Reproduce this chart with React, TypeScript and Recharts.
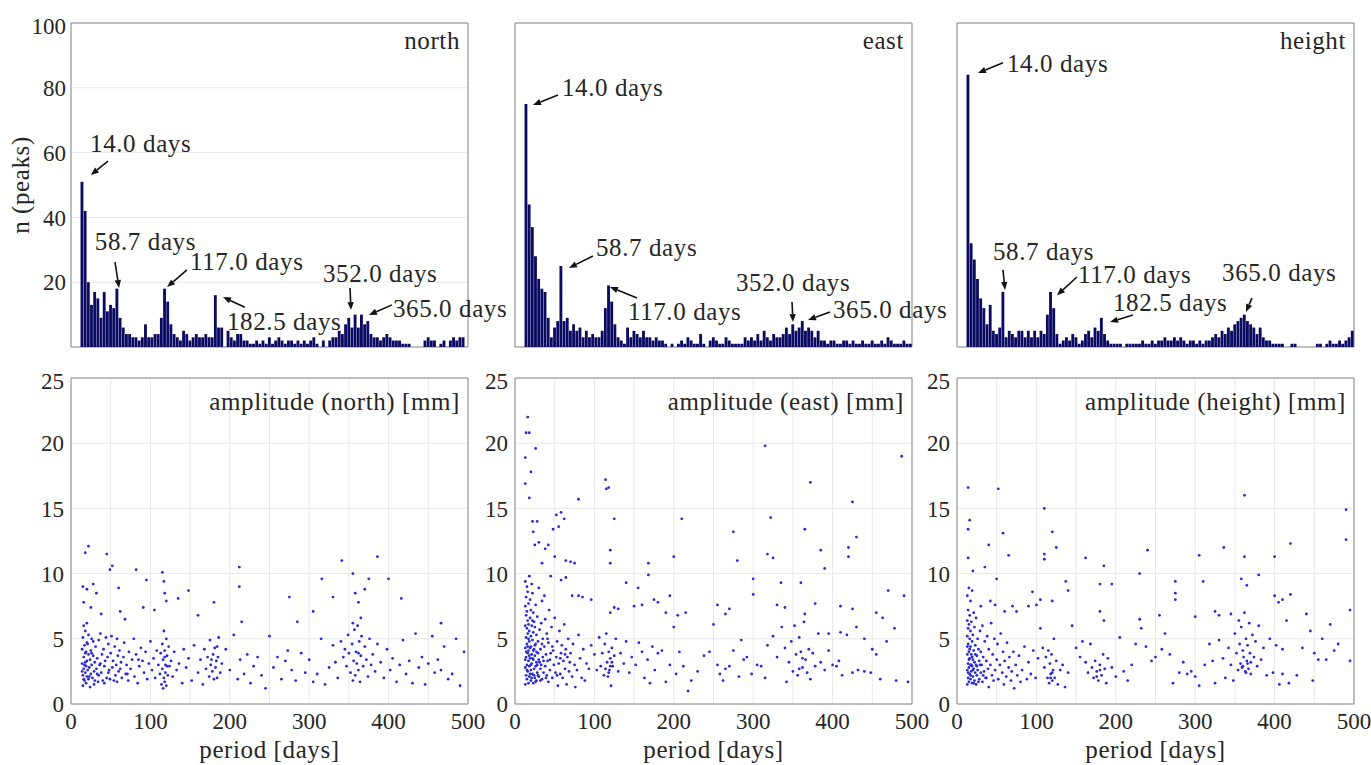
import React from 'react';
import {
  BarChart, Bar, ScatterChart, Scatter, XAxis, YAxis, CartesianGrid,
  ReferenceArea, ReferenceLine, ReferenceDot,
} from 'recharts';

const FONT = 'Liberation Serif, DejaVu Serif, serif';
const INK = '#262626';
const BAR = '#0b0b63';
const DOT = '#2a2ad2';

// histogram: number of peaks per 4-day period bin (first bin centred on 14 days)
const northCounts = [
  51, 42, 20, 13, 17, 15, 9, 17, 11, 13,
  12, 18, 9, 6, 4, 4, 3, 3, 2, 3,
  7, 3, 3, 4, 4, 9, 18, 14, 7, 4,
  3, 2, 5, 4, 2, 3, 4, 3, 3, 4,
  3, 3, 16, 6, 6, 0, 5, 3, 2, 4,
  4, 2, 2, 1, 1, 2, 1, 2, 1, 3,
  1, 2, 3, 2, 1, 2, 2, 1, 2, 1,
  2, 1, 2, 3, 1, 0, 2, 0, 2, 3,
  3, 5, 4, 7, 9, 6, 10, 6, 10, 7,
  8, 4, 3, 3, 2, 3, 4, 3, 2, 2,
  2, 1, 1, 1, 0, 0, 0, 0, 2, 3,
  2, 2, 0, 1, 2, 0, 2, 3, 2, 3,
  3, 0,
];
const eastCounts = [
  75, 44, 37, 28, 21, 18, 17, 9, 3, 6,
  8, 25, 8, 9, 5, 7, 5, 6, 3, 5,
  3, 4, 3, 3, 5, 12, 19, 14, 7, 3,
  2, 1, 6, 3, 5, 4, 3, 5, 3, 3,
  2, 3, 2, 2, 1, 0, 1, 0, 1, 2,
  1, 3, 2, 1, 1, 4, 1, 0, 2, 3,
  2, 1, 1, 3, 2, 1, 1, 1, 1, 3,
  2, 3, 2, 4, 2, 5, 3, 2, 4, 3,
  3, 4, 6, 4, 7, 5, 6, 8, 5, 6,
  5, 3, 5, 2, 2, 1, 2, 2, 1, 1,
  2, 2, 1, 2, 1, 1, 2, 1, 1, 2,
  1, 1, 2, 1, 3, 2, 1, 1, 1, 2,
  1, 1,
];
const heightCounts = [
  84, 32, 27, 21, 15, 12, 7, 13, 5, 4,
  6, 17, 3, 5, 4, 3, 5, 5, 3, 5,
  3, 5, 3, 5, 4, 10, 17, 12, 4, 1,
  2, 3, 2, 4, 3, 1, 2, 4, 5, 3,
  6, 5, 9, 4, 2, 1, 1, 1, 1, 0,
  1, 1, 1, 1, 1, 2, 1, 1, 2, 1,
  2, 2, 3, 2, 2, 3, 2, 3, 2, 1,
  2, 2, 1, 2, 1, 2, 2, 3, 4, 3,
  5, 4, 6, 5, 7, 8, 9, 10, 8, 7,
  6, 4, 6, 3, 2, 2, 1, 1, 1, 1,
  0, 0, 1, 1, 0, 0, 0, 0, 0, 0,
  1, 1, 0, 1, 2, 1, 1, 2, 1, 2,
  3, 5,
];

// scatter: [period (days), amplitude (mm)]
const northPoints: [number, number][] = [
  [14,3.1],[14,4.2],[15,2.2],[15,5.1],[15,1.4],[16,3.6],[16,2.7],[16,6.0],[17,4.5],[17,1.8],[17,3.0],[18,2.4],[18,3.9],[18,5.6],[19,2.9],[19,1.6],[19,4.0],[20,3.3],[20,2.1],[20,6.2],
  [21,2.6],[21,4.6],[22,3.8],[22,1.9],[22,5.3],[23,2.8],[24,3.4],[24,1.3],[25,4.1],[25,2.3],[26,5.0],[26,3.0],[27,2.0],[28,3.7],[28,4.8],[29,2.5],[30,1.8],[30,3.2],[31,4.4],[32,2.7],
  [33,3.5],[34,1.7],[35,4.9],[35,2.2],[36,3.0],[37,5.4],[38,2.4],[39,3.8],[40,1.8],[41,4.2],[42,2.9],[43,3.3],[44,5.1],[45,2.0],[46,3.6],[47,4.6],[48,2.6],[49,1.9],[50,3.9],[51,5.2],
  [52,2.8],[53,3.3],[55,4.4],[56,2.2],[57,3.0],[58,5.0],[58,1.7],[59,3.7],[60,2.5],[61,4.1],[63,3.2],[64,2.0],[66,3.6],[67,4.7],[69,2.3],[70,3.0],[72,1.8],[73,4.0],[75,2.7],[77,3.4],
  [79,5.0],[80,2.1],[82,3.8],[84,1.6],[86,2.9],[88,4.3],[90,3.3],[92,2.4],[94,4.0],[96,1.9],[98,3.1],[100,4.8],[102,2.6],[104,3.5],[106,2.0],[108,4.1],[110,3.0],[112,2.3],[113,3.9],[114,1.5],
  [115,4.6],[115,2.7],[116,1.2],[116,3.4],[117,5.6],[117,2.0],[118,4.1],[118,1.7],[119,3.0],[119,2.4],[120,5.0],[120,1.4],[121,3.7],[122,2.2],[123,4.4],[124,2.9],[126,3.3],[128,2.1],[130,4.0],[133,2.6],
  [136,3.1],[140,1.6],[142,4.2],[145,2.8],[148,3.5],[152,1.8],[155,4.5],[160,2.4],[163,3.4],[166,1.5],[168,4.2],[170,2.7],[172,3.6],[174,2.1],[175,4.9],[176,3.0],[178,2.5],[179,3.8],[180,1.9],[181,4.3],
  [182,2.8],[183,3.3],[184,2.0],[185,3.6],[186,5.1],[188,2.4],[190,3.1],[195,4.2],[200,2.6],[205,5.3],[210,1.9],[213,3.4],[218,2.3],[222,3.8],[226,1.6],[230,2.9],[235,3.6],[240,2.2],[245,1.2],[250,5.2],
  [255,2.8],[260,3.6],[265,1.9],[270,3.3],[273,4.1],[278,2.6],[283,1.8],[290,3.9],[295,2.4],[300,3.4],[305,1.7],[310,2.3],[315,5.0],[320,1.5],[325,2.8],[330,4.5],[333,3.2],[336,2.0],[340,4.8],[343,3.6],
  [345,4.2],[347,2.9],[349,5.3],[350,3.9],[352,2.4],[354,4.6],[355,1.8],[356,3.3],[357,5.7],[358,2.2],[359,4.0],[360,3.1],[361,6.0],[362,2.6],[363,4.8],[364,1.7],[365,3.7],[366,5.2],[368,2.9],[370,4.4],
  [372,3.4],[374,2.1],[376,5.0],[378,3.0],[380,3.8],[383,2.5],[386,4.6],[390,3.2],[394,2.0],[398,4.2],[402,2.6],[405,3.5],[410,1.7],[414,3.0],[418,4.9],[422,2.3],[426,3.3],[430,1.6],[434,5.4],[438,2.8],
  [442,3.6],[446,1.5],[450,3.1],[455,5.2],[458,2.4],[462,3.4],[466,2.6],[470,4.4],[475,1.9],[480,2.3],[485,5.0],[490,1.4],[495,4.0],
  [22,12.1],[18,11.6],[45,11.5],[49,10.3],[52,10.6],[15,9.0],[20,8.8],[28,9.2],[32,8.5],[16,7.8],[25,7.4],[38,6.9],[60,8.9],[62,7.1],[68,6.5],[82,10.3],[95,9.5],[91,7.4],[105,7.2],[115,10.1],
  [117,9.4],[118,8.5],[120,7.9],[135,8.1],[148,8.7],[160,6.8],[180,7.8],[212,10.5],[212,9.0],[215,6.3],[275,8.2],[285,6.3],[305,7.1],[316,9.6],[330,8.2],[341,11.0],[355,10.0],[358,8.5],[362,7.8],[370,8.8],
  [375,9.6],[386,11.3],[400,9.6],[416,8.1],[466,6.2],[355,6.2],[365,6.6],
  [14,2.5],[16,1.9],[18,3.2],[20,4.7],[23,2.1],[26,3.9],[29,1.5],[33,2.3],[37,3.1],[42,1.6],[47,2.4],[54,1.8],[62,2.7],[71,2.3],[85,3.4],[118,3.6],[121,2.9],[177,3.4],[184,4.4],[362,3.9],
];
const eastPoints: [number, number][] = [
  [16,22.0],[14,20.8],[18,20.8],[26,19.6],[13,18.9],[13,16.9],[20,17.8],[18,15.8],[114,17.2],[115,16.5],[118,16.6],[80,15.7],[125,14.2],[210,14.2],[315,19.8],[322,14.3],[487,19.0],[372,17.0],[425,15.5],[430,12.8],
  [275,13.2],[365,13.4],[280,11.0],[200,11.3],[168,10.8],[120,11.8],[120,10.8],[140,9.3],[155,8.9],[168,9.9],[195,8.3],[300,9.6],[300,8.4],[318,11.5],[325,11.2],[335,9.3],[360,9.3],[385,11.8],[390,10.4],[420,12.0],
  [420,11.3],[470,8.7],[490,8.3],[52,14.5],[58,14.7],[62,14.2],[55,13.6],[48,13.4],[42,12.2],[38,11.9],[30,12.4],[25,12.2],[22,14.0],[28,14.0],[23,13.2],[34,10.8],[64,11.0],[70,10.9],[75,10.8],[50,11.3],
  [58,9.5],[45,9.8],[72,8.3],[80,8.3],[85,8.2],[96,8.0],[64,9.7],[130,7.3],[125,7.4],[120,7.0],[150,7.5],[160,7.6],[175,8.0],[180,7.8],[190,7.0],[205,6.8],[215,7.0],[255,7.6],[265,6.9],[270,7.3],
  [285,4.9],[330,7.6],[340,7.4],[365,6.9],[378,7.7],[410,7.5],[425,7.3],[455,7.0],[463,6.6],[478,5.8],[430,5.9],[440,5.0],[450,4.2],[455,3.8],[468,4.8],[480,1.8],[495,1.7],[395,5.4],[410,5.5],
  [13,1.5],[13,2.8],[13,4.3],[13,6.0],[13,7.5],[13,9.4],[14,2.2],[14,3.6],[14,5.1],[14,6.8],[14,8.2],[15,1.9],[15,3.0],[15,4.6],[15,5.8],[15,7.1],[15,9.0],[16,2.5],[16,3.9],[16,5.4],
  [16,6.4],[16,8.6],[17,1.6],[17,3.3],[17,4.1],[17,6.1],[17,7.7],[18,2.1],[18,2.9],[18,4.8],[18,5.6],[18,9.8],[19,3.5],[19,6.6],[19,8.0],[20,1.8],[20,2.6],[20,4.4],[20,5.2],[20,7.2],
  [21,3.1],[21,3.8],[21,6.0],[21,9.2],[22,2.3],[22,4.9],[22,8.5],[23,1.6],[23,3.4],[23,5.5],[23,7.0],[24,2.7],[24,4.2],[24,6.3],[25,2.0],[25,3.7],[25,5.9],[26,2.9],[26,4.6],[26,7.6],
  [27,1.8],[27,3.2],[27,5.3],[28,2.4],[28,6.7],[29,3.9],[29,4.8],[30,2.1],[30,3.4],[30,8.9],[31,5.7],[32,2.7],[32,4.2],[33,3.0],[33,6.2],[34,1.9],[34,7.9],[35,3.6],[35,5.0],[36,2.4],
  [37,4.4],[37,8.3],[38,2.9],[38,6.5],[39,3.8],[40,2.2],[40,5.4],[41,3.3],[42,1.7],[42,4.7],[43,7.2],[44,2.6],[45,3.9],[46,5.9],[47,2.0],[48,4.1],[49,3.0],[50,6.6],[51,2.4],[52,3.6],
  [53,4.8],[54,1.4],[55,3.1],[56,5.6],[57,2.3],[58,3.9],[59,4.5],[60,2.0],[61,3.3],[62,6.1],[63,2.7],[64,4.2],[65,1.5],[66,3.6],[67,5.0],[68,2.5],[70,3.9],[72,2.1],[73,4.6],[75,3.0],
  [76,1.3],[78,2.6],[80,5.3],[82,3.5],[84,2.0],[86,4.2],[88,1.8],[90,3.1],[93,2.7],[96,4.5],[100,3.8],[103,2.6],[106,5.1],[108,2.9],[110,3.9],[112,2.2],[113,4.6],[114,2.7],[115,5.4],[116,3.2],
  [117,2.1],[118,4.0],[119,2.6],[120,3.5],[121,1.4],[122,4.3],[123,2.9],[125,3.7],[127,5.0],[130,2.5],[133,3.9],[137,3.1],[140,4.8],[144,2.4],[147,3.6],[152,3.0],[156,4.7],[160,4.0],[163,2.0],[167,3.4],
  [170,1.6],[173,4.4],[176,2.6],[180,3.9],[185,4.1],[190,1.7],[195,3.0],[200,5.9],[203,2.3],[207,4.0],[212,2.9],[218,1.0],[222,1.8],[230,2.5],[238,3.7],[245,4.0],[250,6.1],[255,3.0],[258,2.3],[262,1.8],
  [265,2.7],[270,2.9],[275,4.1],[282,2.1],[288,3.4],[292,3.6],[298,2.3],[305,3.0],[310,2.9],[315,2.0],[318,4.5],[325,5.2],[330,3.6],[336,5.9],[340,4.3],[342,1.7],[345,3.2],[348,4.8],[350,2.5],[352,6.0],
  [354,3.8],[356,2.2],[358,5.1],[360,4.0],[362,2.8],[364,6.3],[366,3.4],[368,2.4],[370,4.2],[372,1.9],[375,3.9],[378,2.9],[382,5.4],[385,3.2],[390,2.6],[395,4.1],[400,3.0],[405,2.9],[408,3.3],[412,2.2],
  [418,5.3],[425,2.4],[432,2.6],[440,2.5],[448,2.4],[460,1.9],
  [13,3.4],[14,4.0],[15,2.6],[16,4.4],[17,5.0],[18,3.7],[19,2.3],[19,4.3],[20,3.0],[21,2.0],[22,3.5],[22,6.4],[23,4.1],[24,2.2],[25,4.5],[26,1.7],[27,4.0],[28,3.0],[29,2.2],[31,3.2],
  [32,1.8],[34,4.6],[36,3.3],[39,2.0],[41,5.0],[44,3.4],[47,4.4],[53,2.2],[57,3.5],[63,3.8],[69,3.2],[118,2.4],[120,2.9],[122,3.2],[358,2.7],[362,3.5],
];
const heightPoints: [number, number][] = [
  [14,16.6],[52,16.5],[362,16.0],[110,15.0],[490,14.9],[16,14.1],[14,13.4],[58,13.1],[120,13.2],[125,12.0],[40,12.2],[110,11.5],[110,11.1],[65,11.4],[14,11.2],[162,11.2],[240,11.8],[305,11.4],[336,12.0],[362,11.3],
  [400,11.3],[420,12.3],[490,12.6],[185,10.6],[230,10.0],[35,10.5],[20,10.2],[50,9.6],[137,9.4],[140,8.7],[180,9.2],[195,9.2],[275,9.4],[310,9.4],[358,9.6],[365,9.1],[380,9.9],[400,8.3],[405,7.8],[410,8.0],
  [420,8.4],[440,6.9],[470,6.1],[495,7.2],[275,8.5],[275,8.0],[300,6.7],[325,7.1],[330,6.8],[345,6.9],[95,8.6],[105,8.0],[100,7.6],[120,7.9],[90,7.5],[70,7.5],[75,7.1],[60,7.1],[30,7.5],[42,7.9],
  [48,7.6],[180,7.1],[185,6.4],[230,6.5],[255,6.8],[445,5.6],[460,5.0],[480,4.6],[495,3.3],[465,3.4],[475,4.1],[435,4.3],[450,3.9],[410,4.2],[415,6.4],
  [13,1.5],[13,2.6],[13,3.8],[13,5.2],[13,6.4],[13,8.3],[14,2.0],[14,3.1],[14,4.6],[14,5.8],[14,7.2],[15,1.7],[15,2.8],[15,4.0],[15,6.1],[15,8.9],[16,2.3],[16,3.5],[16,5.0],[16,6.8],
  [17,1.9],[17,3.0],[17,4.4],[17,5.6],[17,7.9],[18,2.5],[18,3.8],[18,6.3],[19,1.6],[19,2.9],[19,4.8],[19,8.7],[20,2.1],[20,3.4],[20,5.3],[21,2.7],[21,4.1],[21,7.0],[22,1.8],[22,3.2],
  [22,5.9],[23,2.4],[23,4.5],[24,1.5],[24,3.0],[24,6.6],[25,2.2],[25,3.7],[26,5.0],[26,2.6],[27,4.2],[28,1.9],[28,3.3],[29,5.6],[30,2.4],[30,4.0],[31,3.0],[32,1.7],[32,6.0],[33,3.6],
  [34,2.5],[35,4.8],[36,2.0],[37,3.3],[38,5.2],[39,2.7],[40,1.3],[40,4.2],[42,3.0],[43,6.2],[44,2.2],[45,3.8],[47,5.0],[48,2.6],[50,3.4],[51,4.6],[52,1.9],[54,3.0],[55,5.4],[57,2.4],
  [58,4.0],[59,1.5],[60,3.3],[62,2.1],[63,4.7],[65,2.8],[66,3.6],[68,1.8],[69,2.5],[71,4.0],[72,1.2],[74,3.0],[76,2.2],[78,3.7],[80,1.7],[82,2.6],[85,4.4],[88,1.9],[90,3.2],[93,2.3],
  [96,4.1],[99,2.0],[102,3.5],[105,5.8],[108,4.3],[110,2.8],[112,3.6],[114,2.0],[115,4.1],[116,1.6],[117,3.1],[118,2.3],[119,3.8],[120,1.8],[121,2.6],[122,5.0],[123,2.0],[125,3.3],[127,1.5],[130,2.6],
  [133,3.0],[136,1.3],[140,2.4],[145,6.0],[150,4.3],[155,3.6],[158,4.8],[162,3.2],[165,2.4],[168,4.6],[170,2.8],[172,2.0],[174,3.3],[176,2.5],[178,1.8],[180,3.0],[182,2.2],[184,3.8],[186,2.7],[188,1.6],
  [190,3.5],[195,2.8],[200,2.1],[205,5.1],[210,2.5],[215,1.8],[220,3.0],[225,4.6],[232,5.8],[238,4.4],[245,3.3],[250,3.6],[258,4.2],[262,5.4],[268,3.8],[272,1.6],[280,2.4],[285,3.2],[290,2.3],[295,2.5],
  [300,2.1],[305,1.4],[312,3.0],[318,4.6],[322,3.3],[325,1.6],[330,4.9],[335,3.5],[338,2.0],[342,4.3],[345,3.0],[348,1.8],[350,5.4],[352,3.9],[354,2.6],[355,6.4],[356,4.6],[357,3.1],[358,5.9],[359,2.8],
  [360,4.1],[361,3.6],[362,7.0],[363,2.5],[364,5.0],[365,3.3],[366,4.5],[367,2.7],[368,6.2],[369,3.9],[370,2.3],[372,5.3],[374,3.6],[376,4.8],[378,2.9],[380,6.0],[383,3.4],[386,4.3],[390,2.2],[394,5.0],
  [398,2.4],[402,4.5],[406,1.5],[410,2.3],[418,1.6],[428,2.2],[448,1.8],[455,3.4],
  [13,4.4],[14,2.4],[15,3.4],[16,4.2],[17,2.2],[18,3.0],[19,3.6],[20,2.6],[21,1.6],[23,3.8],[25,2.9],[27,1.7],[29,3.0],[33,2.2],[37,2.0],[46,1.8],[118,2.0],[120,2.4],[176,2.1],[180,2.6],
  [360,2.9],[364,2.4],[366,3.1],[370,3.2],
];

type Note = { label: string; tx: number; ty: number; x1: number; y1: number; x2: number; y2: number };

// peak labels: text anchor (tx, ty) and arrow from (x1, y1) to (x2, y2), in data units
const northNotes: Note[] = [
  { label: '14.0 days', tx: 24, ty: 60.2, x1: 46.6, y1: 57.4, x2: 25, y2: 53.1 },
  { label: '58.7 days', tx: 30, ty: 29.9, x1: 55.4, y1: 26.2, x2: 60.5, y2: 18.2 },
  { label: '117.0 days', tx: 150, ty: 23.8, x1: 146, y1: 23.8, x2: 121, y2: 18.5 },
  { label: '182.5 days', tx: 196.5, ty: 5.2, x1: 219, y1: 12.3, x2: 191.4, y2: 15.4 },
  { label: '352.0 days', tx: 317.4, ty: 20.1, x1: 351.4, y1: 18.2, x2: 352.6, y2: 11.4 },
  { label: '365.0 days', tx: 405.5, ty: 9.3, x1: 404.3, y1: 13.0, x2: 375.3, y2: 9.9 },
];
const eastNotes: Note[] = [
  { label: '14.0 days', tx: 59.2, ty: 77.5, x1: 54.2, y1: 77.8, x2: 22.7, y2: 74.7 },
  { label: '58.7 days', tx: 102, ty: 28.1, x1: 98.2, y1: 28.1, x2: 68, y2: 24.4 },
  { label: '117.0 days', tx: 142.3, ty: 8.3, x1: 153.7, y1: 15.1, x2: 119.6, y2: 18.5 },
  { label: '352.0 days', tx: 278.3, ty: 17.3, x1: 348.9, y1: 13.9, x2: 350.1, y2: 7.7 },
  { label: '365.0 days', tx: 400.5, ty: 9.0, x1: 396.7, y1: 10.8, x2: 369, y2: 8.3 },
];
const heightNotes: Note[] = [
  { label: '14.0 days', tx: 63, ty: 84.9, x1: 57.9, y1: 87.7, x2: 26.4, y2: 84.6 },
  { label: '58.7 days', tx: 45.3, ty: 26.9, x1: 57.9, y1: 23.8, x2: 60.5, y2: 17.6 },
  { label: '117.0 days', tx: 152.4, ty: 19.8, x1: 151.1, y1: 21.6, x2: 125.9, y2: 16.0 },
  { label: '182.5 days', tx: 196.5, ty: 11.1, x1: 221.7, y1: 9.9, x2: 192.7, y2: 7.7 },
  { label: '365.0 days', tx: 333.8, ty: 20.4, x1: 371.5, y1: 15.1, x2: 363.9, y2: 10.8 },
];

const histTicksX = [0, 100, 200, 300, 400, 500];
const histTicksY = [0, 20, 40, 60, 80, 100];
const ampTicksX = [0, 50, 100, 150, 200, 250, 300, 350, 400, 450, 500];
const ampTicksY = [0, 5, 10, 15, 20, 25];

const PLOT_LEFT = [71, 515, 957];
const PLOT_W = 397;
const TOP_Y = 23;
const TOP_H = 324;
const BOT_Y = 378;
const BOT_H = 326;
const AXIS_W = 60;

const tickStyle = { fill: INK, fontSize: 23, fontFamily: FONT };
const textProps = { fill: INK, fontSize: 25, fontFamily: FONT, letterSpacing: 0.6 };

const Arrow = (props: any) => {
  const { x1, y1, x2, y2 } = props;
  const ang = Math.atan2(y2 - y1, x2 - x1);
  const len = 8;
  const half = 3.2;
  const bx = x2 - len * Math.cos(ang);
  const by = y2 - len * Math.sin(ang);
  const px = -Math.sin(ang) * half;
  const py = Math.cos(ang) * half;
  return (
    <g>
      <line x1={x1} y1={y1} x2={bx} y2={by} stroke="#111" strokeWidth={1.6} />
      <polygon points={`${x2},${y2} ${bx + px},${by + py} ${bx - px},${by - py}`} fill="#111" />
    </g>
  );
};

const noteText = (label: string) => (p: any) => (
  <text x={p.cx} y={p.cy} {...textProps}>{label}</text>
);

const cornerTitle = (label: string, dy: number) => (p: any) => (
  <text x={p.cx - 8} y={p.cy + dy} textAnchor="end" {...textProps}>{label}</text>
);

const HistPanel = ({ counts, title, notes, col }: { counts: number[]; title: string; notes: Note[]; col: number }) => {
  const data = counts.map((n, i) => ({ p: 14 + 4 * i, n }));
  const first = col === 0;
  const axisW = first ? PLOT_LEFT[0] : AXIS_W;
  return (
    <div style={{ position: 'absolute', left: PLOT_LEFT[col] - axisW, top: TOP_Y - 10 }}>
      <BarChart
        width={axisW + PLOT_W + 90}
        height={10 + TOP_H + 2}
        data={data}
        margin={{ top: 10, right: 90, bottom: 2, left: 0 }}
        barCategoryGap={0}
        barGap={0}
      >
        <CartesianGrid stroke="#e8e8e8" />
        <XAxis type="number" dataKey="p" domain={[0, 500]} ticks={histTicksX} tick={false}
          axisLine={false} tickLine={false} height={0} allowDataOverflow />
        <YAxis type="number" domain={[0, 100]} ticks={histTicksY} width={axisW}
          axisLine={false} tickLine={false} tickSize={0} tickMargin={5}
          tick={first ? tickStyle : false}
          label={first ? ((lp: any) => {
            const vb = lp.viewBox;
            if (!vb) return null;
            const x = vb.x + 29;
            const y = vb.y + vb.height / 2;
            return (
              <g transform={`translate(${x}, ${y}) rotate(-90)`}>
                <text x={0} y={0} textAnchor="middle" {...textProps}>n (peaks)</text>
              </g>
            );
          }) : undefined}
        />
        <Bar dataKey="n" fill={BAR} barSize={3.4} isAnimationActive={false} />
        <ReferenceArea x1={0} x2={500} y1={0} y2={100} fill="none" stroke="#8a8a8a" strokeWidth={1} />
        <ReferenceDot x={500} y={100} r={0} shape={cornerTitle(title, 26)} />
        {notes.map((nt) => (
          <ReferenceLine key={`a-${nt.label}`} segment={[{ x: nt.x1, y: nt.y1 }, { x: nt.x2, y: nt.y2 }]} shape={Arrow} />
        ))}
        {notes.map((nt) => (
          <ReferenceDot key={`t-${nt.label}`} x={nt.tx} y={nt.ty} r={0} shape={noteText(nt.label)} />
        ))}
      </BarChart>
    </div>
  );
};

const AmpPanel = ({ points, title, col }: { points: [number, number][]; title: string; col: number }) => {
  const data = points.map(([p, a]) => ({ p, a }));
  return (
    <div style={{ position: 'absolute', left: PLOT_LEFT[col] - AXIS_W, top: BOT_Y - 10 }}>
      <ScatterChart
        width={AXIS_W + PLOT_W + 30}
        height={10 + BOT_H + 61}
        margin={{ top: 10, right: 30, bottom: 0, left: 0 }}
      >
        <CartesianGrid stroke="#e8e8e8" />
        <XAxis type="number" dataKey="p" domain={[0, 500]} ticks={ampTicksX} interval={0}
          tickFormatter={(v: number) => (v % 100 === 0 ? String(v) : '')}
          axisLine={false} tickLine={false} tickSize={0} tickMargin={9} height={61} tick={tickStyle}
          label={(lp: any) => {
            const vb = lp.viewBox;
            if (!vb) return null;
            return (
              <text x={vb.x + vb.width / 2} y={vb.y + 54} textAnchor="middle" {...textProps}>period [days]</text>
            );
          }}
        />
        <YAxis type="number" dataKey="a" domain={[0, 25]} ticks={ampTicksY} width={AXIS_W}
          axisLine={false} tickLine={false} tickSize={0} tickMargin={7} tick={tickStyle} />
        <Scatter data={data} isAnimationActive={false}
          shape={(s: any) => <circle cx={s.cx} cy={s.cy} r={1.4} fill={DOT} />} />
        <ReferenceArea x1={0} x2={500} y1={0} y2={25} fill="none" stroke="#8a8a8a" strokeWidth={1} />
        <ReferenceDot x={500} y={25} r={0} shape={cornerTitle(title, 32)} />
      </ScatterChart>
    </div>
  );
};

export default function App() {
  return (
    <div style={{ position: 'absolute', left: 0, top: 0, width: 1371, height: 765, background: '#fff', overflow: 'hidden' }}>
      <HistPanel counts={northCounts} title="north" notes={northNotes} col={0} />
      <HistPanel counts={eastCounts} title="east" notes={eastNotes} col={1} />
      <HistPanel counts={heightCounts} title="height" notes={heightNotes} col={2} />
      <AmpPanel points={northPoints} title="amplitude (north) [mm]" col={0} />
      <AmpPanel points={eastPoints} title="amplitude (east) [mm]" col={1} />
      <AmpPanel points={heightPoints} title="amplitude (height) [mm]" col={2} />
    </div>
  );
}
